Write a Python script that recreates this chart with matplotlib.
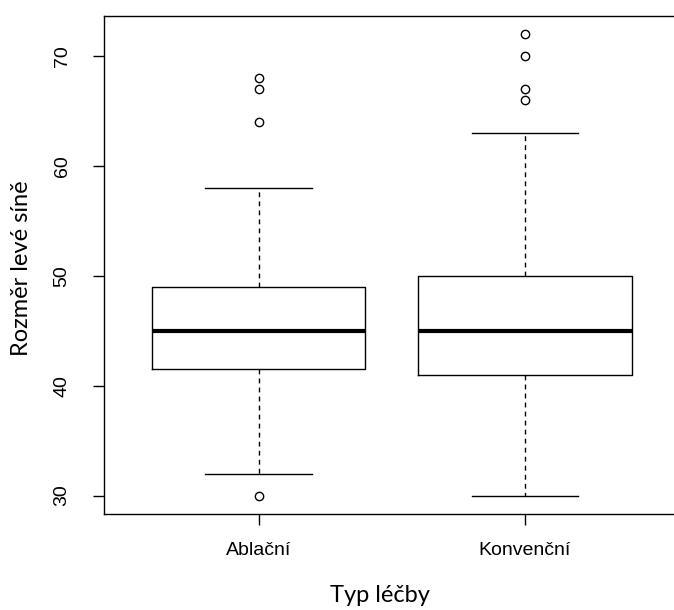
import matplotlib
matplotlib.use("Agg")
import matplotlib.pyplot as plt

# box statistics
groups = ["Ablační", "Konvenční"]
whisker_low = [32, 30]
q1 = [41.5, 41]
median = [45, 45]
q3 = [49, 50]
whisker_high = [58, 63]
outliers = [[64, 67, 68, 30], [66, 67, 70, 72]]

stats = []
for i in range(len(groups)):
    stats.append({
        "label": groups[i],
        "whislo": whisker_low[i],
        "q1": q1[i],
        "med": median[i],
        "q3": q3[i],
        "whishi": whisker_high[i],
        "fliers": outliers[i],
    })

fig = plt.figure(figsize=(6.74, 6.10), dpi=100)
# plot region runs past the right edge of the picture (cropped frame)
ax = fig.add_axes([104 / 674, 96 / 610, 575.5 / 674, 498.2 / 610])

ax.bxp(stats, positions=[1, 2], widths=0.8, showfliers=True,
       boxprops=dict(color="black", linewidth=1),
       medianprops=dict(color="black", linewidth=3, solid_capstyle="butt"),
       whiskerprops=dict(color="black", linewidth=1, linestyle=(0, (3.5, 3))),
       capprops=dict(color="black", linewidth=1),
       capwidths=0.4,
       flierprops=dict(marker="o", markerfacecolor="none", markeredgecolor="black",
                       markersize=6, markeredgewidth=1))

ax.set_xlim(0.42, 2.58)
ax.set_ylim(28.32, 73.68)
ax.set_yticks([30, 40, 50, 60, 70])
ax.set_xticks([1, 2])
ax.set_xticklabels(groups)

for s in ax.spines.values():
    s.set_linewidth(1)
    s.set_color("black")
ax.spines["right"].set_visible(False)

ax.tick_params(direction="out", length=8, width=1, colors="black")
ax.tick_params(axis="x", pad=12)
ax.tick_params(axis="y", pad=16)
for lab in ax.get_xticklabels() + ax.get_yticklabels():
    lab.set_fontfamily("Liberation Sans")
    lab.set_fontsize(14)
for lab in ax.get_yticklabels():
    lab.set_rotation(90)
    lab.set_verticalalignment("center")

ax.set_xlabel("Typ léčby", fontfamily="Lato", fontsize=17)
ax.xaxis.set_label_coords(276 / 575.5, -82 / 498.2)
ax.xaxis.label.set_verticalalignment("center")
ax.set_ylabel("Rozměr levé síně", fontfamily="Lato", fontsize=17)
ax.yaxis.set_label_coords(-82 / 575.5, 246 / 498.2)
ax.yaxis.label.set_verticalalignment("center")

fig.savefig("out.png", dpi=100)
